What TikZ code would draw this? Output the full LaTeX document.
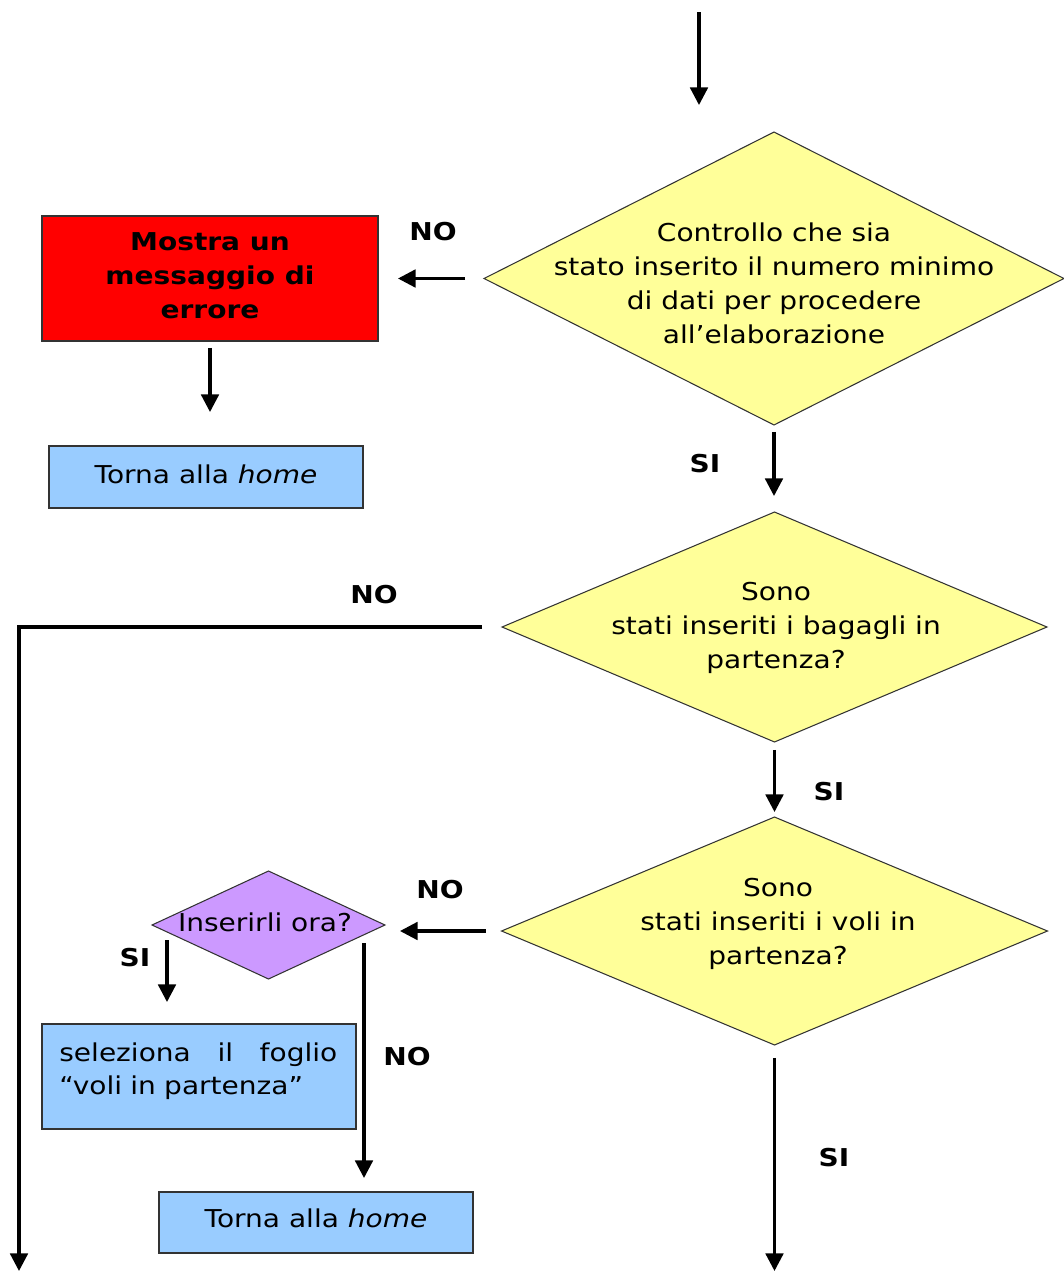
\documentclass[tikz,border=0pt]{standalone}
\usepackage{fontspec}
\setmainfont[FakeStretch=1.14]{DejaVu Sans}
\usetikzlibrary{shapes.geometric,arrows.meta,calc}

\definecolor{yellowfill}{HTML}{FFFF99}
\definecolor{purplefill}{HTML}{CC99FF}
\definecolor{bluefill}{HTML}{99CCFF}
\definecolor{redfill}{HTML}{FF0000}

\begin{document}
\begin{tikzpicture}[x=0.02cm,y=-0.02cm,
  font=\fontsize{14}{19.3}\selectfont,
  arr/.style={line width=1.8pt, -{Triangle[width=10pt,length=10pt]}},
  dia/.style={shape=diamond, draw=black!80, line width=0.6pt, inner sep=0pt, outer sep=0pt},
  box/.style={draw=black!80, line width=0.8pt, inner sep=0pt, outer sep=0pt},
  lab/.style={font=\fontsize{14}{16}\selectfont\bfseries},
  txt/.style={align=center, inner sep=0pt}]

\useasboundingbox (0,0) rectangle (1063,1271);

% decision diamonds
\node[dia, fill=yellowfill, minimum width=11.6cm, minimum height=5.86cm] (d1) at (774,278.5) {};
\node[txt] (d1t) at (774,283) {Controllo che sia\\stato inserito il numero minimo\\di dati per procedere\\all’elaborazione};

\node[dia, fill=yellowfill, minimum width=10.9cm, minimum height=4.6cm] (d2) at (774.5,627) {};
\node[txt] (d2t) at (776,628) {Sono\\stati inseriti i bagagli in\\partenza?};

\node[dia, fill=yellowfill, minimum width=10.92cm, minimum height=4.56cm] (d3) at (774.5,931) {};
\node[txt] (d3t) at (778,924) {Sono\\stati inseriti i voli in\\partenza?};

\node[dia, fill=purplefill, minimum width=4.66cm, minimum height=2.16cm] (q) at (268.5,925) {};
\node[txt] (qt) at (265,922) {Inserirli ora?};

% process boxes
\node[box, fill=redfill, minimum width=6.72cm, minimum height=2.5cm] (err) at (210,278.5) {};
\node[txt, font=\fontsize{14}{19.3}\selectfont\bfseries] (errt) at (210,276) {Mostra un\\messaggio di\\errore};

\node[box, fill=bluefill, minimum width=6.28cm, minimum height=1.24cm] (home1) at (206,477) {};
\node[txt] (home1t) at (206,474) {Torna alla \textit{home}};

\node[box, fill=bluefill, minimum width=6.28cm, minimum height=2.1cm] (sel) at (199,1076.5) {};
\node[txt, align=left, text width=5.56cm, anchor=north west] (selt) at (59,1042)
  {\hbox to \linewidth{seleziona\hfill il\hfill foglio}\\“voli in partenza”};

\node[box, fill=bluefill, minimum width=6.28cm, minimum height=1.22cm] (home2) at (316,1222.5) {};
\node[txt] (home2t) at (316,1218) {Torna alla \textit{home}};

% free ends of connectors
\coordinate (start) at (699,12);
\coordinate (leftend) at (19,1271);
\coordinate (bottomend) at (775,1271);
\coordinate (qsi) at (167,940);
\coordinate (qno) at (364,943);

% connectors
\draw[arr, shorten >=0.54cm] (start) -- (start |- d1.north);
\draw[arr, shorten <=0.38cm, shorten >=0.4cm] (d1.west) -- (err.east);
\draw[arr, shorten <=0.14cm, shorten >=0.68cm] (err.south) -- (err.south |- home1.north);
\draw[arr, shorten <=0.14cm, shorten >=0.32cm] (d1.south) -- (d1.south |- d2.north);
\draw[arr, shorten <=0.4cm] (d2.west) -| (leftend);
\draw[arr, shorten <=0.16cm, shorten >=0.1cm] (d2.south) -- (d2.south |- d3.north);
\draw[arr, shorten <=0.32cm, shorten >=0.3cm] (d3.west) -- (d3.west -| q.east);
\draw[arr, shorten >=0.44cm] (qsi) -- (qsi |- sel.north);
\draw[arr, shorten >=0.28cm] (qno) -- (qno |- home2.north);
\draw[arr, shorten <=0.26cm] (d3.south) -- (d3.south |- bottomend);

% branch labels
\node[lab] (no1) at (433,232) {NO};
\node[lab] (no2) at (374,595) {NO};
\node[lab] (si1) at (705,464) {SI};
\node[lab] (si2) at (829,792) {SI};
\node[lab] (no3) at (440,890) {NO};
\node[lab] (si3) at (135,958) {SI};
\node[lab] (no4) at (407,1057) {NO};
\node[lab] (si4) at (834,1158) {SI};

\end{tikzpicture}
\end{document}
